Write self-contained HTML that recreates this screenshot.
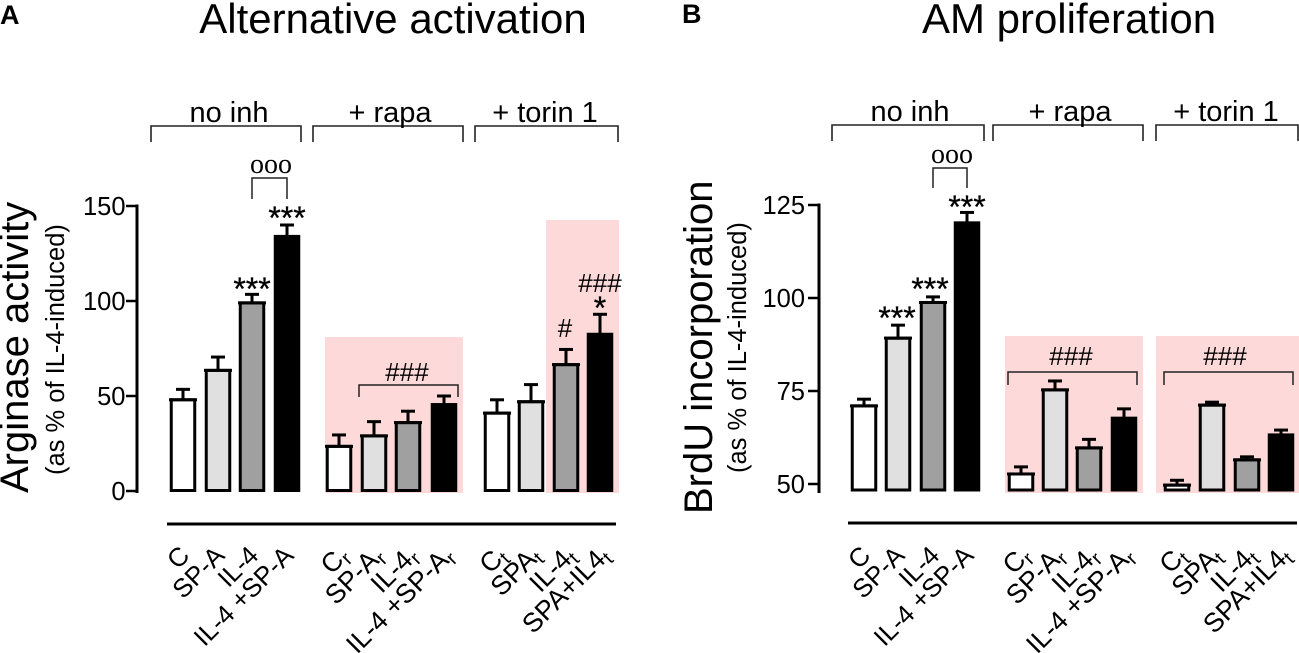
<!DOCTYPE html>
<html>
<head>
<meta charset="utf-8">
<style>
html,body{margin:0;padding:0;background:#fff}
svg{display:block}
text{font-family:"Liberation Sans",sans-serif;fill:#000}
</style>
</head>
<body>
<svg id="fig" width="1299" height="653" viewBox="0 0 1299 653" xmlns="http://www.w3.org/2000/svg">
<text x="0" y="24" font-size="27" font-weight="bold">A</text>
<text x="682" y="23" font-size="27" font-weight="bold">B</text>
<text x="393" y="33" font-size="42" text-anchor="middle">Alternative activation</text>
<text x="1069" y="33" font-size="42" text-anchor="middle">AM proliferation</text>
<text transform="translate(28,493) rotate(-90)" font-size="40">Arginase activity</text>
<text transform="translate(64,475) rotate(-90)" font-size="25.5">(as % of IL-4-induced)</text>
<text transform="translate(712,514) rotate(-90)" font-size="40">BrdU incorporation</text>
<text transform="translate(746,473) rotate(-90)" font-size="25.5">(as % of IL-4-induced)</text>
</svg>
<script>
var labelsA = ["C","SP-A","IL-4","IL-4 +SP-A","C|r","SP-A|r","IL-4|r","IL-4 +SP-A|r","C|t","SPA|t","IL-4|t","SPA+IL4|t"];
var labelsB = ["C","SP-A","IL-4","IL-4 +SP-A","C|r","SP-A|r","IL-4|r","IL-4 +SP-A|r","C|t","SPA|t","IL-4|t","SPA+IL4|t"];
var valuesA = [48,63.5,99,134,23.5,29,36,45.5,41,47,66.5,82.5];
var errorsA = [53.5,70.5,103.5,140,29.5,36.5,42,50,48,56,74.5,93];
var valuesB = [71,89.2,98.8,120.2,52.7,75.3,59.7,67.7,49.7,71.2,56.5,63.2];
var errorsB = [72.8,92.7,100.3,123,54.6,77.7,62,70.2,51,72,57.3,64.5];
var ticksA = [0,50,100,150];
var ticksB = [50,75,100,125];
var fills = ["#ffffff","#e0e0e0","#a0a0a0","#000000"];

var NS = "http://www.w3.org/2000/svg";
var svg = document.getElementById("fig");
function mk(tag, attrs, parent) {
  var e = document.createElementNS(NS, tag);
  for (var k in attrs) e.setAttribute(k, attrs[k]);
  (parent || svg).appendChild(e);
  return e;
}
function yScale(v, cfg) { return cfg.y0 + (v - cfg.vMin) * (cfg.y1 - cfg.y0) / (cfg.vMax - cfg.vMin); }

function rectEl(name, x, y, w, h, fill) {
  var r = mk("rect", {x:x, y:y, width:w, height:h, fill:fill});
  
  
  return r;
}
function lineEl(name, x1, y1, x2, y2, w) {
  var l = mk("line", {x1:x1, y1:y1, x2:x2, y2:y2, stroke:"#000", "stroke-width":w});
  
  
  return l;
}
function bracketEl(name, x1, x2, yTop, yBot, w) {
  var p = mk("path", {d:"M"+x1+" "+yBot+"V"+yTop+"H"+x2+"V"+yBot, fill:"none", stroke:"#222", "stroke-width":w});
  
  
  return p;
}
function textEl(name, x, y, s, size, family) {
  var t = mk("text", {x:x, y:y, "font-size":size, "text-anchor":"middle"});
  if (family) t.setAttribute("style", "font-family:" + family);
  t.textContent = s;
  
  
  return t;
}

function drawPanel(cfg) {
  cfg.pink.forEach(function (p) { rectEl(cfg.id + "-inhibitor-background", p[0], p[1], p[2] - p[0], p[3] - p[1], "#fdd9d9"); });
  cfg.groups.forEach(function (g) {
    bracketEl(cfg.id + "-group-bracket", g[0], g[1], g[2], g[2] + 16, 1.6);
    textEl(cfg.id + "-group-label", g[3], g[2] - 4, g[4], 29);
  });
  lineEl(cfg.id + "-y-axis", cfg.axisX, yScale(cfg.vMax, cfg) - 1.5, cfg.axisX, cfg.axisBottom, 3);
  cfg.ticks.forEach(function (t) {
    var y = yScale(t, cfg);
    lineEl(cfg.id + "-y-tick", cfg.axisX - 11, y, cfg.axisX, y, 2.5);
    var lab = textEl(cfg.id + "-y-tick-label", cfg.labelEnd, y + 9, String(t), 25.5);
    lab.setAttribute("text-anchor", "end");
  });
  var base = cfg.base;
  cfg.xs.forEach(function (x, i) {
    var top = yScale(cfg.values[i], cfg), err = yScale(cfg.errors[i], cfg), fill = fills[i % 4];
    lineEl(cfg.id + "-error-stem", x, err, x, top, 3);
    lineEl(cfg.id + "-error-cap", x - 7, err, x + 7, err, 3);
    var w = 23.5;
    var b = mk("rect", {x:x - w / 2, y:top, width:w, height:Math.max(base - top, 0), fill:fill, stroke:"#000", "stroke-width":3});
    
    
    if (i % 4 !== 3) lineEl(cfg.id + "-bar-top", x - 14, top, x + 14, top, 3);
  });
  lineEl(cfg.id + "-x-axis", cfg.xLine[0], cfg.xLine[2], cfg.xLine[1], cfg.xLine[2], 3);
  cfg.labels.forEach(function (s, i) {
    var parts = s.split("|");
    var sub = parts.length > 1;
    var ex = cfg.xs[i] + (sub ? 11 : 8), ey = cfg.labelY;
    var t = mk("text", {"font-size":sub ? 26.8 : 26, "text-anchor":"end", transform:"translate(" + ex + "," + ey + ") rotate(-45)"});
    
    
    t.appendChild(document.createTextNode(parts[0]));
    if (sub) {
      var ts = mk("tspan", {"font-size":20, dy:5}, t);
      ts.textContent = parts[1];
    }
  });
  cfg.notes.forEach(function (n) {
    var t = textEl(cfg.id + "-significance-mark", n[0], n[1], n[2], n[3], n[4]);
    if (n[2].charAt(0) === "*") { t.setAttribute("stroke", "#000"); t.setAttribute("stroke-width", "0.3"); }
  });
  cfg.brackets.forEach(function (b) { bracketEl(cfg.id + "-comparison-bracket", b[0], b[1], b[2], b[3], 1.5); });
}

var serif = "'Liberation Serif',serif";
drawPanel({
  id:"panel-a", vMin:0, vMax:150, y0:491, y1:206, axisX:137, labelEnd:125.5, axisBottom:493, base:490.5,
  ticks:ticksA, values:valuesA, errors:errorsA, labels:labelsA,
  xs:[183,218,252,287,339,374,408,444,497,531,566,600],
  labelY:557,
  xLine:[167,616,524],
  pink:[[325,337,463,493],[546,220,619,493]],
  groups:[[151,301,126,229,"no inh"],[313,463,126,390,"+ rapa"],[475,618,126,545,"+ torin 1"]],
  brackets:[[252,287,178,199],[359,458,385,397]],
  notes:[[271,173,"ooo",28,serif],[287,229,"***",32],[252,300,"***",32],[407,381,"###",26],[565,337,"#",26],[600,319,"*",32],[600,292,"###",26]]
});
drawPanel({
  id:"panel-b", vMin:50, vMax:125, y0:484, y1:205, axisX:819, labelEnd:805, axisBottom:493, base:490,
  ticks:ticksB, values:valuesB, errors:errorsB, labels:labelsB,
  xs:[864,898,933,967,1021,1055,1089,1124,1177,1212,1247,1281],
  labelY:557,
  xLine:[848,1297,523],
  pink:[[1005,336,1143,493],[1156,336,1299,493]],
  groups:[[832,984,125,910,"no inh"],[993,1143,125,1070,"+ rapa"],[1156,1298,125,1226,"+ torin 1"]],
  brackets:[[933,967,168,188],[1008,1137,372,385],[1164,1293,372,385]],
  notes:[[952,163,"ooo",28,serif],[967,218,"***",32],[930,300,"***",32],[897,329,"***",32],[1071,365,"###",26],[1225,365,"###",26]]
});
</script>
</body>
</html>
